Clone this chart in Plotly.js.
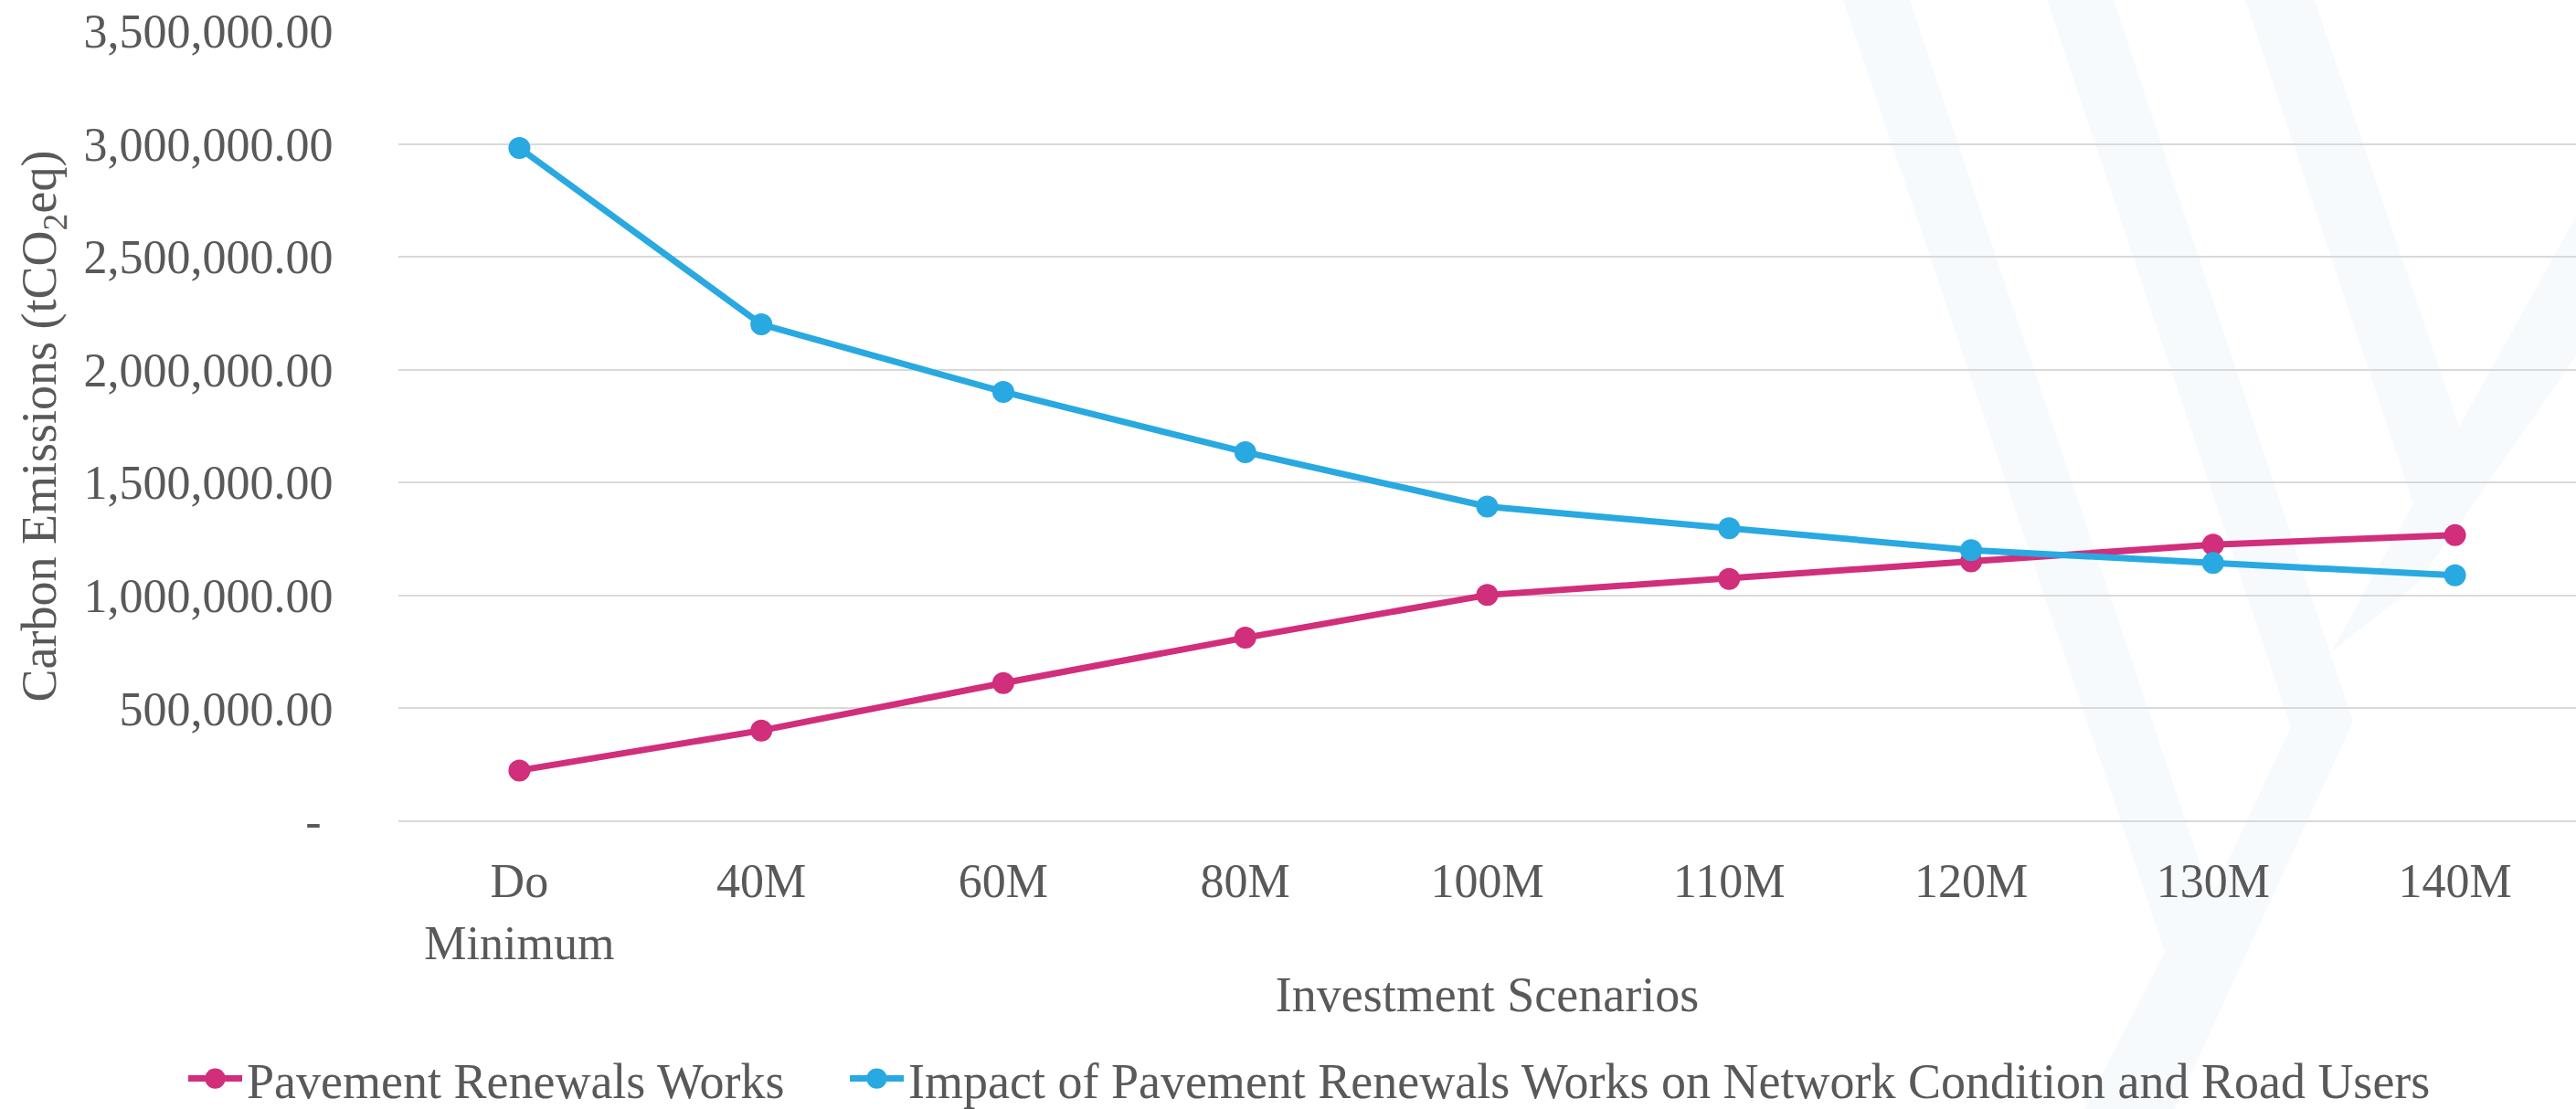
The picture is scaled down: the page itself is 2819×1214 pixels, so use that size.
<!DOCTYPE html>
<html>
<head>
<meta charset="utf-8">
<script src="https://cdn.plot.ly/plotly-3.0.1.min.js"></script>
<style>
html,body{margin:0;padding:0;background:#fff;}
#chart{width:2819px;height:1214px;}
</style>
</head>
<body>
<div id="chart"></div>
<script>
// ---- data ----
const categories = ["Do<br>Minimum", "40M", "60M", "80M", "100M", "110M", "120M", "130M", "140M"];
const pavementRenewals = [225000, 402000, 612000, 813000, 1002000, 1073000, 1151000, 1225000, 1267000];
const impactOnNetwork = [2982000, 2201000, 1902000, 1635000, 1394000, 1298000, 1201000, 1144000, 1089000];
const yTickVals = [0, 500000, 1000000, 1500000, 2000000, 2500000, 3000000, 3500000];
const yTickText = ["-\u00a0", "500,000.00", "1,000,000.00", "1,500,000.00", "2,000,000.00", "2,500,000.00", "3,000,000.00", "3,500,000.00"];
const seriesNames = ["Pavement Renewals Works", "Impact of Pavement Renewals Works on Network Condition and Road Users"];

// ---- layout geometry ----
const W = 2819, H = 1214;
const M = {l: 436, r: 0, t: 34, b: 315, autoexpand: false};
const PW = W - M.l - M.r, PH = H - M.t - M.b;
const FONT = '"Liberation Serif", "Times New Roman", serif';
const TXT = '#595959';
const PINK = '#D12E7C', BLUE = '#29A9E1';
const LEG_ITEM_W = 59;

// faint background watermark (decorative), pixel polygons -> paper coords
const wm = [
  [[2017,0],[2090,0],[2440,1042],[2352,1214],[2281,1214],[2369,1042]],
  [[2240,0],[2313,0],[2575,790],[2380,1214],[2310,1214],[2507,796]],
  [[2457,0],[2533,0],[2691,467],[2819,237],[2819,390],[2645,640],[2551,714],[2641,551]]
];
function toPath(poly){
  return poly.map((p,i)=>(i?'L':'M')+((p[0]-M.l)/PW).toFixed(5)+','+((H-M.b-p[1])/PH).toFixed(5)).join(' ')+' Z';
}
const shapes = wm.map(poly=>({type:'path', xref:'paper', yref:'paper', path:toPath(poly),
  fillcolor:'#F7FAFC', line:{width:0}, layer:'below'}));

const traces = [
  {x: categories, y: pavementRenewals, name: seriesNames[0], type: 'scatter', mode: 'lines+markers',
   line: {color: PINK, width: 7}, marker: {color: PINK, size: 24}, legend: 'legend'},
  {x: categories, y: impactOnNetwork, name: seriesNames[1], type: 'scatter', mode: 'lines+markers',
   line: {color: BLUE, width: 7}, marker: {color: BLUE, size: 24}, legend: 'legend2'}
];

const legendBase = {orientation: 'h', yanchor: 'middle', y: -0.326, xanchor: 'left',
  font: {family: FONT, color: TXT, size: 54}, bgcolor: 'rgba(0,0,0,0)', itemwidth: LEG_ITEM_W};

const layout = {
  width: W, height: H,
  margin: M,
  paper_bgcolor: '#ffffff', plot_bgcolor: 'rgba(0,0,0,0)',
  font: {family: FONT, color: TXT, size: 52},
  showlegend: true,
  legend: Object.assign({}, legendBase, {x: (201 - M.l) / PW}),
  legend2: Object.assign({}, legendBase, {x: (925 - M.l) / PW}),
  xaxis: {type: 'category', range: [-0.5, 8.5], showgrid: false, zeroline: false, showline: false,
          ticks: 'outside', ticklen: 20, tickcolor: 'rgba(0,0,0,0)',
          tickfont: {family: FONT, color: TXT, size: 52},
          title: {text: 'Investment Scenarios', font: {family: FONT, color: TXT, size: 54}, standoff: 9},
          automargin: false, fixedrange: true},
  yaxis: {range: [0, 3500000], tickvals: yTickVals, ticktext: yTickText,
          showgrid: true, gridcolor: '#D9D9D9', gridwidth: 2,
          zeroline: true, zerolinecolor: '#D9D9D9', zerolinewidth: 2, showline: false,
          ticks: 'outside', ticklen: 60, tickcolor: 'rgba(0,0,0,0)',
          tickfont: {family: FONT, color: TXT, size: 52},
          title: {text: 'Carbon Emissions (tCO<sub>2</sub>eq)', font: {family: FONT, color: TXT, size: 54}, standoff: 12},
          automargin: false, fixedrange: true},
  shapes: shapes
};

function fixLegendSymbols(gd){
  // legend line symbol runs the full item width, marker centred on it (Excel style)
  gd.querySelectorAll('.legendlines path').forEach(function(p){
    p.setAttribute('d', 'M5,0h' + LEG_ITEM_W);
  });
  gd.querySelectorAll('.legendpoints path').forEach(function(p){
    p.setAttribute('transform', 'translate(' + (5 + LEG_ITEM_W / 2) + ',0) scale(1.4)');
  });
}

Plotly.newPlot('chart', traces, layout, {displayModeBar: false, staticPlot: true}).then(function(gd){
  fixLegendSymbols(gd);
  gd.on('plotly_afterplot', function(){ fixLegendSymbols(gd); });
  setTimeout(function(){ fixLegendSymbols(gd); }, 300);
});
</script>
</body>
</html>
